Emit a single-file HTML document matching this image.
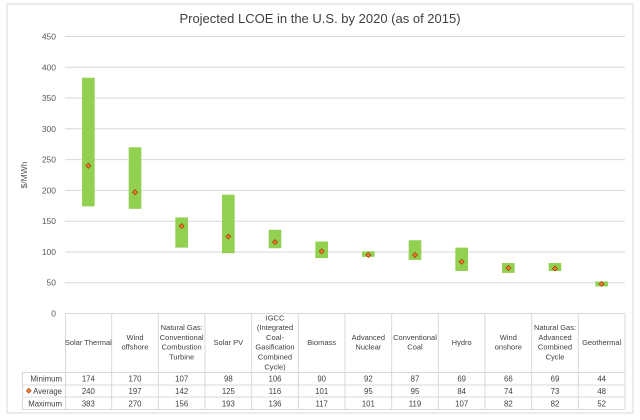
<!DOCTYPE html>
<html><head><meta charset="utf-8"><style>
html,body{margin:0;padding:0;background:#fff;}
svg{display:block;font-family:"Liberation Sans",sans-serif;}
</style></head><body>
<svg width="640" height="420" viewBox="0 0 640 420" xmlns="http://www.w3.org/2000/svg">
<rect x="7" y="4" width="626" height="409" fill="#fff" stroke="#d9d9d9" stroke-width="1"/>
<text x="320" y="23" font-size="13" text-anchor="middle" fill="#404040">Projected LCOE in the U.S. by 2020 (as of 2015)</text>
<g stroke="#d9d9d9" stroke-width="1">
<line x1="65" x2="625" y1="36.5" y2="36.5"/>
<line x1="65" x2="625" y1="67.3" y2="67.3"/>
<line x1="65" x2="625" y1="98.1" y2="98.1"/>
<line x1="65" x2="625" y1="128.8" y2="128.8"/>
<line x1="65" x2="625" y1="159.6" y2="159.6"/>
<line x1="65" x2="625" y1="190.4" y2="190.4"/>
<line x1="65" x2="625" y1="221.2" y2="221.2"/>
<line x1="65" x2="625" y1="252.0" y2="252.0"/>
<line x1="65" x2="625" y1="282.7" y2="282.7"/>
</g>
<g font-size="8.5" fill="#595959" text-anchor="end">
<text x="56" y="39.5">450</text><text x="56" y="70.3">400</text><text x="56" y="101.1">350</text>
<text x="56" y="131.8">300</text><text x="56" y="162.6">250</text><text x="56" y="193.4">200</text>
<text x="56" y="224.2">150</text><text x="56" y="255">100</text><text x="56" y="285.7">50</text>
<text x="56" y="316.5">0</text>
</g>
<text transform="translate(27,175) rotate(-90)" font-size="8.5" fill="#595959" text-anchor="middle">$/MWh</text>
<g id="bars"></g>
<g stroke="#d9d9d9" stroke-width="1" fill="none">
<line x1="65" x2="625" y1="313.5" y2="313.5"/>
<line x1="22" x2="625" y1="372.5" y2="372.5"/>
<line x1="22" x2="625" y1="385" y2="385"/>
<line x1="22" x2="625" y1="397" y2="397"/>
<line x1="22" x2="625" y1="409.5" y2="409.5"/>
<line x1="22.5" x2="22.5" y1="372.5" y2="409.5"/>
</g>
<g id="vl" stroke="#d9d9d9" stroke-width="1"></g>
<g font-size="7.8" fill="#404040" text-anchor="end">
<text x="62" y="381.5">Minimum</text><text x="62" y="394">Average</text><text x="62" y="406.5">Maximum</text>
</g>
<rect x="27" y="389" width="3.5" height="3.5" transform="rotate(45 28.75 390.75)" fill="#ed7d31" stroke="#9c2a00" stroke-width="0.5"/>
<g id="cats" font-size="7.5" fill="#404040" text-anchor="middle"></g>
<g id="vals" font-size="7.8" fill="#404040" text-anchor="middle"></g>
</svg>
<script>
(function(){
var d=[["Solar Thermal",174,240,383],["Wind|offshore",170,197,270],["Natural Gas:|Conventional|Combustion|Turbine",107,142,156],["Solar PV",98,125,193],["IGCC|(Integrated|Coal-|Gasification|Combined|Cycle)",106,116,136],["Biomass",90,101,117],["Advanced|Nuclear",92,95,101],["Conventional|Coal",87,95,119],["Hydro",69,84,107],["Wind|onshore",66,74,82],["Natural Gas:|Advanced|Combined|Cycle",69,73,82],["Geothermal",44,48,52]];
var ns="http://www.w3.org/2000/svg";
function el(t,a,p,txt){var e=document.createElementNS(ns,t);for(var k in a)e.setAttribute(k,a[k]);if(txt!=null)e.textContent=txt;p.appendChild(e);return e;}
var b=document.getElementById("bars"),v=document.getElementById("vl"),c=document.getElementById("cats"),vv=document.getElementById("vals");
function Y(x){return 313.5-x*0.6156;}
var w=560/12;
el("line",{x1:65.5,x2:65.5,y1:313.5,y2:409.5},v);
for(var i=0;i<12;i++){
 var cx=65+w*(i+0.5);
 el("rect",{x:cx-6.3,y:Y(d[i][3]),width:12.6,height:Y(d[i][1])-Y(d[i][3]),fill:"#92d050"},b);
 var my=Y(d[i][2]);
 el("rect",{x:cx-1.8,y:my-1.8,width:3.6,height:3.6,transform:"rotate(45 "+cx+" "+my+")",fill:"#ed7d31",stroke:"#9c2a00","stroke-width":0.6},b);
 el("line",{x1:65+w*(i+1),x2:65+w*(i+1),y1:313.5,y2:409.5},v);
 var ls=d[i][0].split("|"),n=ls.length,ty=342-(n-1)*4.9+2.8;
 for(var j=0;j<n;j++)el("text",{x:cx,y:ty+j*9.8},c,ls[j]);
 el("text",{x:cx,y:381.5},vv,d[i][1]);el("text",{x:cx,y:394},vv,d[i][2]);el("text",{x:cx,y:406.5},vv,d[i][3]);
}
})();
</script>
</body></html>
